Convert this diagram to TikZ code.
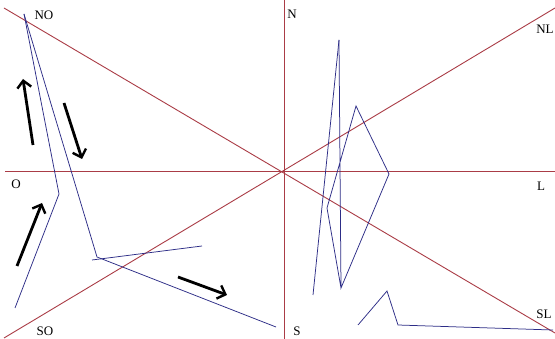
\documentclass[tikz,border=0pt]{standalone}
\usepackage{fontspec}
\setmainfont{Liberation Serif}
\usetikzlibrary{arrows.meta}
\definecolor{axisred}{RGB}{170,60,70}
\definecolor{pathblue}{RGB}{45,45,135}
\begin{document}
\begin{tikzpicture}[x=1pt,y=-1pt,
  axis/.style={draw=axisred,line width=0.9pt},
  route/.style={draw=pathblue,line width=0.75pt,line join=miter},
  bigarrow/.style={draw=black,line width=2.8pt,-{Straight Barb[length=7pt,width=14pt,line width=2.4pt]}},
  lbl/.style={font=\fontsize{13}{13}\selectfont,inner sep=0pt}]
\useasboundingbox[fill=white] (0,0) rectangle (555,339);
% axes
\draw[axis] (5,171.5) -- (555,171.5);
\draw[axis] (284.5,0) -- (284.5,339);
\draw[axis] (4,8) -- (555,333);
\draw[axis] (4,338) -- (555,8);
% labels
\node[lbl] (no) at (44,15) {NO};
\node[lbl] (n) at (292,14) {N};
\node[lbl] (nl) at (545,29) {NL};
\node[lbl] (o) at (16,184) {O};
\node[lbl] (l) at (541,186) {L};
\node[lbl] (so) at (45,331) {SO};
\node[lbl] (s) at (297,331) {S};
\node[lbl] (sl) at (544,314) {SL};
% left routes
\draw[route] (24,14) -- (59,194) -- (15,308);
\draw[route] (24,14) -- (97,257) -- (276,327);
\draw[route] (92,260) -- (202,246);
% right routes
\draw[route] (339,40) -- (313,295);
\draw[route] (339,40) -- (341,288) -- (389,174) -- (356,106) -- (327,208) -- (341,288);
\draw[route] (358,325) -- (387,291) -- (398,325) -- (553,330);
% arrows
\coordinate (a1s) at (33,145); \coordinate (a1e) at (23,79);
\coordinate (a2s) at (64,103); \coordinate (a2e) at (82,159);
\coordinate (a3s) at (17,266); \coordinate (a3e) at (42,203);
\coordinate (a4s) at (178,277); \coordinate (a4e) at (227,295);
\draw[bigarrow] (a1s) -- (a1e);
\draw[bigarrow] (a2s) -- (a2e);
\draw[bigarrow] (a3s) -- (a3e);
\draw[bigarrow] (a4s) -- (a4e);
\end{tikzpicture}
\end{document}
